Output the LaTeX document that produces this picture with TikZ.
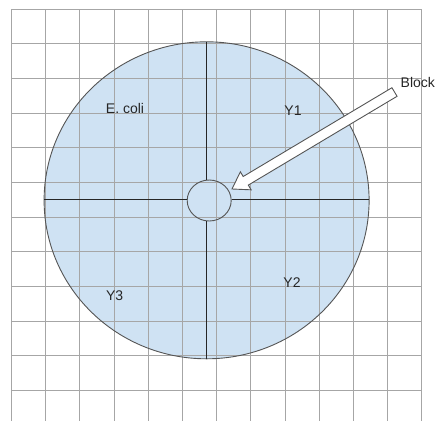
\documentclass[tikz,border=0pt]{standalone}
\usepackage{fontspec}
\setmainfont{Liberation Sans}
\usetikzlibrary{shapes.geometric,calc}
\definecolor{plate}{HTML}{CFE2F3}
\definecolor{gridgray}{HTML}{A6A6A6}
\definecolor{edgegray}{HTML}{555555}
\tikzset{
  gridline/.style={draw=gridgray, line width=0.9pt},
  crossline/.style={draw=black!85, line width=0.9pt},
  lbl/.style={font=\fontsize{14}{16}\selectfont, text=black!85, inner sep=0pt},
}
\begin{document}
\begin{tikzpicture}[x=1pt,y=-1pt]
\useasboundingbox (0,0) rectangle (441,421);
% plate fill
\node[ellipse, fill=plate, minimum width=325pt, minimum height=317pt, inner sep=0pt] (plate) at (206.6,200.3) {};
% grid
\foreach \i in {0,...,12}{
  \draw[gridline] ({11.3+34.22*\i},9.3) -- ({11.3+34.22*\i},421);
}
\foreach \j in {0,...,11}{
  \draw[gridline] (11.3,{9.3+34.64*\j}) -- (422,{9.3+34.64*\j});
}
% plate outline
\node[ellipse, draw=edgegray, line width=0.9pt, minimum width=325pt, minimum height=317pt, inner sep=0pt] (rim) at (206.6,200.3) {};
% block (small circle)
\node[ellipse, draw=edgegray, line width=0.9pt, minimum width=44pt, minimum height=41pt, inner sep=0pt] (block) at (209.2,200.5) {};
% cross lines
\coordinate (ctop) at (206.7,41.7);
\coordinate (cbot) at (206.7,359);
\coordinate (cleft) at (44,199.5);
\coordinate (cright) at (369,199.5);
\draw[crossline] (ctop) -- (block.north -| ctop);
\draw[crossline] (block.south -| cbot) -- (cbot);
\draw[crossline] (cleft) -- (block.west |- cleft);
\draw[crossline] (block.east |- cright) -- (cright);
% labels
\node[lbl] (ecoli) at (125,108) {E. coli};
\node[lbl] (y1) at (293,111) {Y1};
\node[lbl] (y2) at (292,282.5) {Y2};
\node[lbl] (y3) at (114.7,296) {Y3};
\node[lbl, anchor=west] (blk) at (400.5,82) {Block};
% hollow block arrow
\coordinate (tail) at (394.5,92);
\coordinate (tip) at (232,189);
\coordinate (neck) at ($(tip)!16pt!(tail)$);
\draw[draw=edgegray, line width=0.9pt, fill=white, line join=miter]
  ($(tail)!5pt!90:(tip)$) -- ($(neck)!5pt!-90:(tail)$) -- ($(neck)!10.5pt!-90:(tail)$)
  -- (tip) -- ($(neck)!10.5pt!90:(tail)$) -- ($(neck)!5pt!90:(tail)$)
  -- ($(tail)!5pt!-90:(tip)$) -- cycle;
\end{tikzpicture}
\end{document}
